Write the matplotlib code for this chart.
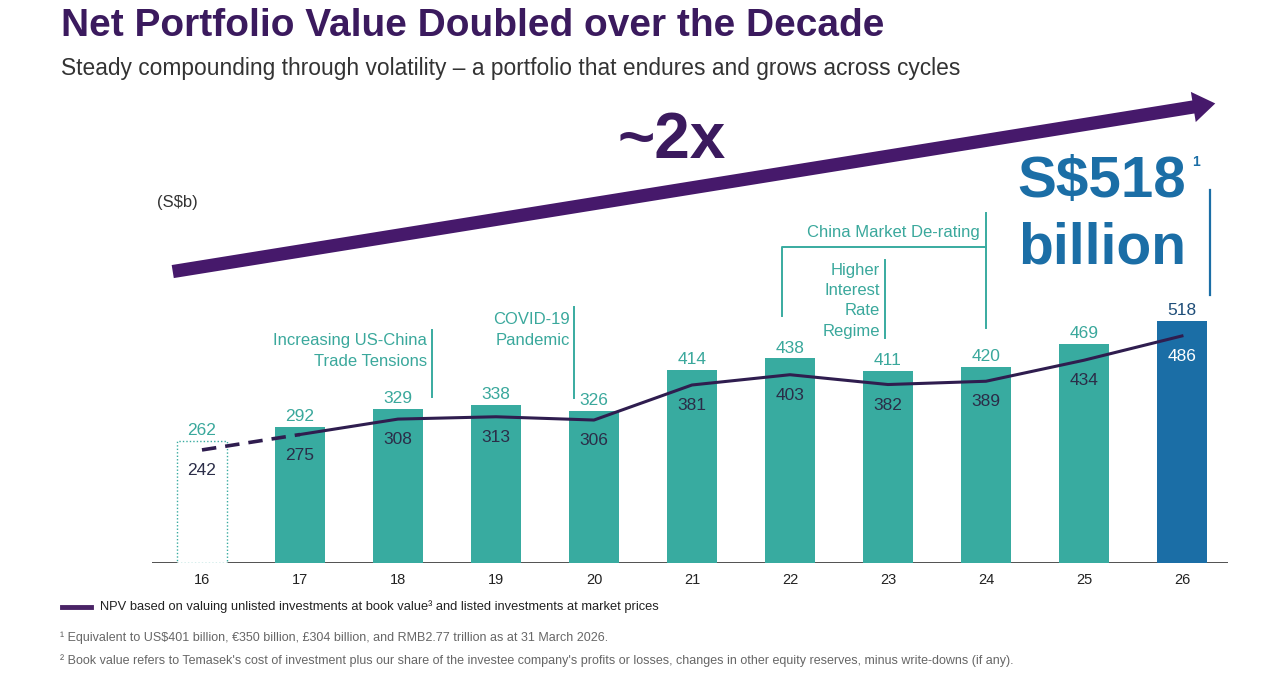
import numpy as np
import matplotlib.pyplot as plt
from matplotlib.patches import FancyArrowPatch

plt.rcParams['font.family'] = ['Liberation Sans', 'DejaVu Sans']

years = ['16', '17', '18', '19', '20', '21', '22', '23', '24', '25', '26']
portfolio = [262, 292, 329, 338, 326, 414, 438, 411, 420, 469, 518]
npv = [242, 275, 308, 313, 306, 381, 403, 382, 389, 434, 486]

TEAL = '#38aba0'
TEAL_TXT = '#3aa89c'
BLUE = '#1b6ea6'
PURPLE = '#46196b'
LINE = '#2f1d4f'

W, H = 1274, 699
fig = plt.figure(figsize=(W / 100, H / 100), dpi=100)
fig.patch.set_facecolor('white')


def fx(px):
    return px / W


def fy(py):
    return 1 - py / H


ax = fig.add_axes([fx(152), fy(563), (1228 - 152) / W, (563 - 100) / H])
ax.set_xlim(-0.51, 10.47)
ax.set_ylim(0, 991)
ax.axis('off')
ax.axhline(0, color='#333333', lw=1.2)

x = np.arange(len(years))
colors = [TEAL] * (len(years) - 1) + [BLUE]
ax.bar(x[1:], portfolio[1:], width=0.51, color=colors[1:], zorder=2)
ax.bar(x[0], portfolio[0], width=0.51, facecolor='white', edgecolor=TEAL,
       linestyle=(0, (1, 1.5)), lw=1, zorder=2)

ax.plot(x[:2], npv[:2], color=LINE, lw=2.6, ls=(0, (4, 2.5)), zorder=3)
ax.plot(x[1:], npv[1:], color=LINE, lw=2.2, zorder=3)

for i, (p, n) in enumerate(zip(portfolio, npv)):
    last = i == len(years) - 1
    ax.text(i, p + 6, str(p), ha='center', va='bottom', fontsize=12.5,
            color='#1f4e79' if last else TEAL_TXT)
    ax.text(i, n - 44, str(n), ha='center', va='center', fontsize=12.5,
            color='white' if last else '#2b2d48')
    ax.text(i, -36, years[i], ha='center', va='center', fontsize=10.5,
            color='#222222')


def xd(px):
    return (px - 202) / 98


def yd(py):
    return (563 - py) / 0.467


def mark(px, py0, py1):
    ax.plot([xd(px), xd(px)], [yd(py0), yd(py1)], color=TEAL, lw=1.4)


# event annotations
ax.text(xd(427), yd(351), 'Increasing US-China\nTrade Tensions', ha='right',
        va='center', fontsize=12, color=TEAL_TXT, linespacing=1.45)
mark(432, 330, 397)
ax.text(xd(570), yd(330), 'COVID-19\nPandemic', ha='right', va='center',
        fontsize=12, color=TEAL_TXT, linespacing=1.45)
mark(574, 307, 398)
ax.text(xd(980), yd(233), 'China Market De-rating', ha='right', va='center',
        fontsize=12, color=TEAL_TXT)
ax.plot([xd(782), xd(782), xd(986)], [yd(316), yd(247), yd(247)], color=TEAL, lw=1.4)
mark(986, 213, 328)
ax.text(xd(880), yd(301), 'Higher\nInterest\nRate\nRegime', ha='right',
        va='center', fontsize=12, color=TEAL_TXT, linespacing=1.43)
mark(885, 260, 338)

# headline
fig.text(fx(61), fy(26), 'Net Portfolio Value Doubled over the Decade',
         fontsize=28, fontweight='bold', color='#3b1a5e', va='center')
fig.text(fx(61), fy(68), 'Steady compounding through volatility \u2013 a portfolio '
         'that endures and grows across cycles', fontsize=16.4,
         color='#333333', va='center')

fig.text(fx(157), fy(203), '(S$b)', fontsize=12, color='#333333', va='center')

arrow = FancyArrowPatch((fx(170), fy(272)), (fx(1218), fy(103)),
                        transform=fig.transFigure,
                        arrowstyle='simple,head_length=1.6,head_width=2.2,tail_width=0.95',
                        mutation_scale=10, color=PURPLE, lw=0)
fig.add_artist(arrow)
fig.text(fx(672), fy(141), '~2x', fontsize=46, fontweight='bold',
         color='#3b1a5e', ha='center', va='center')

fig.text(fx(1102), fy(182), 'S$518', fontsize=42, fontweight='bold',
         color=BLUE, ha='center', va='center')
fig.text(fx(1102), fy(249), 'billion', fontsize=41, fontweight='bold',
         color=BLUE, ha='center', va='center')
fig.text(fx(1196), fy(162), '1', fontsize=10, fontweight='bold',
         color=BLUE, ha='center', va='center')
fig.add_artist(plt.Line2D([fx(1210), fx(1210)], [fy(190), fy(295)],
                          color=BLUE, lw=1.6))

# legend and notes
fig.add_artist(plt.Line2D([fx(62), fx(91)], [fy(607), fy(607)],
                          color='#4a2366', lw=3.5))
fig.text(fx(100), fy(607), 'NPV based on valuing unlisted investments at book '
         'value\u00b3 and listed investments at market prices', fontsize=9.3,
         color='#222222', va='center')
fig.text(fx(60), fy(638), '\u00b9 Equivalent to US$401 billion, \u20ac350 billion, '
         '\u00a3304 billion, and RMB2.77 trillion as at 31 March 2026.',
         fontsize=9, color='#666666', va='center')
fig.text(fx(60), fy(661), "\u00b2 Book value refers to Temasek's cost of investment "
         "plus our share of the investee company's profits or losses, changes in "
         "other equity reserves, minus write-downs (if any).",
         fontsize=9, color='#666666', va='center')

fig.savefig('out.png', dpi=100, facecolor='white')
